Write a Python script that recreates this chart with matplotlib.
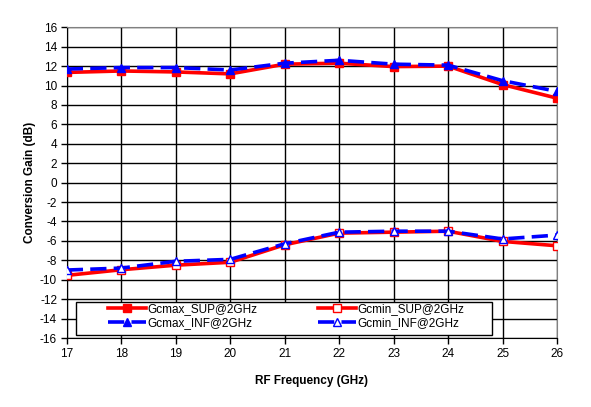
import matplotlib
matplotlib.use("Agg")
import matplotlib.pyplot as plt
from matplotlib.patches import Rectangle

freq = [17, 18, 19, 20, 21, 22, 23, 24, 25, 26]
gcmax_sup = [11.35, 11.5, 11.4, 11.2, 12.2, 12.3, 11.95, 12.0, 10.1, 8.7]
gcmax_inf = [11.7, 11.85, 11.85, 11.6, 12.3, 12.6, 12.2, 12.1, 10.5, 9.4]
gcmin_sup = [-9.55, -8.97, -8.5, -8.2, -6.4, -5.2, -5.1, -5.0, -6.05, -6.5]
gcmin_inf = [-9.0, -8.8, -8.1, -7.9, -6.3, -5.1, -5.0, -5.0, -5.8, -5.4]
yticks = list(range(-16, 17, 2))

plt.rcParams['font.family'] = ['Liberation Sans', 'DejaVu Sans']
plt.rcParams['axes.unicode_minus'] = False

W, H = 591, 407
fig = plt.figure(figsize=(W / 100, H / 100), dpi=100)
ax = fig.add_axes([0.113, 0.1695, 0.8295, 0.7635])

red = '#ff0000'
blue = '#0000ff'
lw = 2.6
dash = (4.5, 2)

l1, = ax.plot(freq, gcmax_sup, color=red, lw=lw, marker='s', ms=5.5,
              mfc=red, mec=red, label='Gcmax_SUP@2GHz', zorder=3)
l2, = ax.plot(freq, gcmin_sup, color=red, lw=lw, marker='s', ms=6,
              mfc='white', mec=red, mew=1.0, label='Gcmin_SUP@2GHz', zorder=3)
l3, = ax.plot(freq, gcmax_inf, color=blue, lw=lw, ls=(0, dash), marker='^', ms=6,
              mfc=blue, mec=blue, label='Gcmax_INF@2GHz', zorder=4)
l4, = ax.plot(freq, gcmin_inf, color=blue, lw=lw, ls=(0, dash), marker='^', ms=6,
              mfc='white', mec=blue, mew=1.0, label='Gcmin_INF@2GHz', zorder=4)

ax.set_xlim(17, 26)
ax.set_ylim(-16, 16)
ax.set_xticks(freq)
ax.set_yticks(yticks)
ax.grid(True, color='black', lw=1.0)
ax.set_axisbelow(True)

for s in ['top', 'right']:
    ax.spines[s].set_color('#808080')
for s in ['left', 'bottom']:
    ax.spines[s].set_color('black')
ax.tick_params(direction='out', length=4, width=1, labelsize=8.5, pad=3)

ax.set_xlabel('RF Frequency (GHz)', fontsize=8.5, fontweight='bold', labelpad=11)
ax.set_ylabel('Conversion Gain (dB)', fontsize=8.5, fontweight='bold', labelpad=3)

# legend frame
rect = Rectangle((76 / W, 1 - 335 / H), (492 - 76) / W, (335 - 302) / H,
                 transform=fig.transFigure, facecolor='white', edgecolor='black',
                 lw=1.0, zorder=10)
fig.add_artist(rect)

common = dict(fontsize=8.5, frameon=False, borderpad=0, handlelength=3.2,
              handletextpad=0.15, labelspacing=0.2, borderaxespad=0,
              loc='upper left')
leg1 = fig.legend(handles=[l1, l3], bbox_to_anchor=(108 / W, 1 - 303 / H), **common)
leg2 = fig.legend(handles=[l2, l4], bbox_to_anchor=(318 / W, 1 - 303 / H), **common)
leg1.set_zorder(11)
leg2.set_zorder(11)

fig.savefig('out.png', dpi=100)
